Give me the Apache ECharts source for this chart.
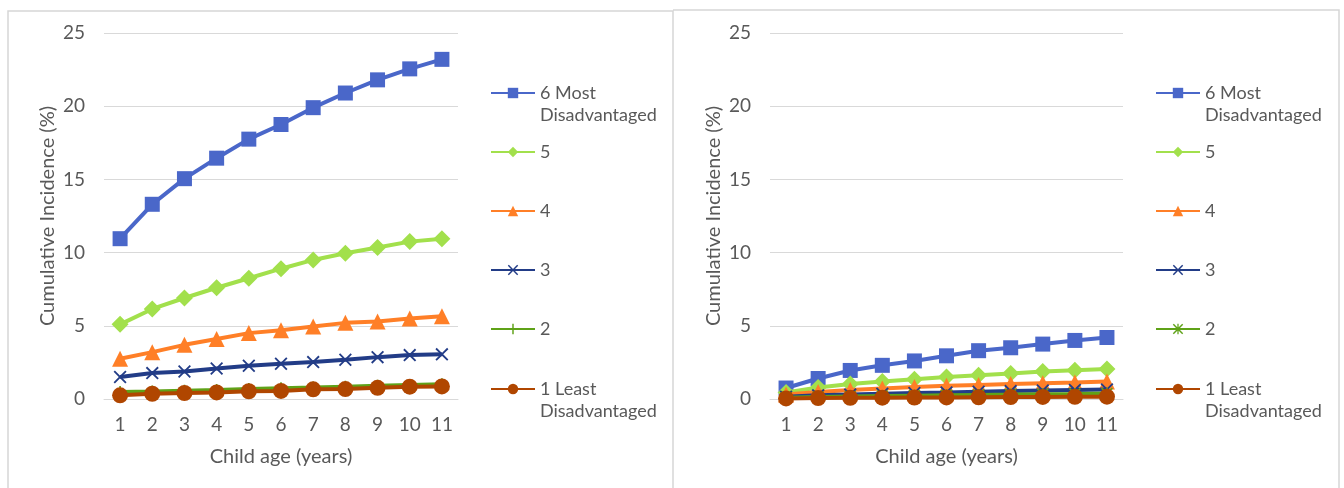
<!DOCTYPE html>
<html>
<head>
<meta charset="utf-8">
<script src="https://cdn.jsdelivr.net/npm/echarts@6/dist/echarts.min.js"></script>
<style>
  html, body { margin: 0; padding: 0; background: #ffffff; }
  #left { position: absolute; left: 0; top: 0; width: 673px; height: 488px; }
  #right { position: absolute; left: 673px; top: 0; width: 671px; height: 488px; }
</style>
</head>
<body>
<div id="left"></div>
<div id="right"></div>
<script>
// ---- Data ----
const ages = ['1', '2', '3', '4', '5', '6', '7', '8', '9', '10', '11'];
const seriesNames = ['6 Most Disadvantaged', '5', '4', '3', '2', '1 Least Disadvantaged'];
const yTicks = [0, 5, 10, 15, 20, 25];

// Left panel
const left6 = [10.95, 13.3, 15.05, 16.45, 17.75, 18.75, 19.9, 20.9, 21.8, 22.55, 23.2];
const left5 = [5.1, 6.15, 6.9, 7.6, 8.25, 8.9, 9.5, 9.95, 10.35, 10.75, 10.95];
const left4 = [2.75, 3.2, 3.7, 4.1, 4.5, 4.7, 4.95, 5.2, 5.3, 5.5, 5.65];
const left3 = [1.5, 1.77, 1.88, 2.08, 2.27, 2.41, 2.52, 2.68, 2.86, 3.0, 3.05];
const left2 = [0.48, 0.52, 0.57, 0.62, 0.68, 0.73, 0.78, 0.84, 0.9, 0.95, 1.0];
const left1 = [0.25, 0.36, 0.41, 0.45, 0.53, 0.55, 0.66, 0.68, 0.76, 0.84, 0.86];

// Right panel
const right6 = [0.75, 1.4, 1.95, 2.3, 2.6, 2.95, 3.3, 3.5, 3.75, 4.0, 4.2];
const right5 = [0.45, 0.78, 1.02, 1.2, 1.35, 1.5, 1.62, 1.74, 1.88, 1.97, 2.05];
const right4 = [0.3, 0.48, 0.62, 0.72, 0.82, 0.9, 0.96, 1.02, 1.08, 1.13, 1.2];
const right3 = [0.15, 0.25, 0.3, 0.36, 0.41, 0.45, 0.5, 0.54, 0.58, 0.62, 0.65];
const right2 = [0.08, 0.13, 0.17, 0.2, 0.23, 0.26, 0.28, 0.3, 0.33, 0.35, 0.38];
const right1 = [0.04, 0.06, 0.08, 0.09, 0.1, 0.11, 0.12, 0.13, 0.14, 0.15, 0.16];

// ---- Styles ----
const FONT = 'Lato, "Open Sans", sans-serif';
const TEXT = '#595959';
const GRID = '#d9d9d9';
const colors = ['#4A67C9', '#A2E04C', '#FF7F27', '#223C87', '#5FA218', '#B04600'];
const xPath = 'path://M0,1 L1,0 L5,4 L9,0 L10,1 L6,5 L10,9 L9,10 L5,6 L1,10 L0,9 L4,5 Z';
const plusPath = 'path://M4.3,0 H5.7 V4.3 H10 V5.7 H5.7 V10 H4.3 V5.7 H0 V4.3 H4.3 Z';
const starPath = 'path://M0,1 L1,0 L5,4 L9,0 L10,1 L6,5 L10,9 L9,10 L5,6 L1,10 L0,9 L4,5 Z M4.4,0 H5.6 V10 H4.4 Z';
const legendLines = {
  '6 Most Disadvantaged': ' \n6 Most\nDisadvantaged',
  '1 Least Disadvantaged': ' \n1 Least\nDisadvantaged'
};
const legendCenters = [93, 152, 211, 270, 329, 389];

function buildOption(dataSets, series2Symbol, gridLeft, gridRight, legendLeft, border) {
  const symbols = ['rect', 'diamond', 'triangle', xPath, series2Symbol, 'circle'];
  const sizes = [15, 17, 16, 13, 12, 16];
  const series = seriesNames.map((name, i) => ({
    name: name,
    type: 'line',
    data: dataSets[i],
    symbol: symbols[i],
    symbolSize: sizes[i],
    showAllSymbol: true,
    lineStyle: { color: colors[i], width: 4 },
    itemStyle: { color: colors[i] },
    emphasis: { disabled: true },
    animation: false,
    z: 2 + i
  }));
  const legends = seriesNames.map((name, i) => {
    const multi = !!legendLines[name];
    return {
      data: [name],
      orient: 'vertical',
      left: legendLeft,
      top: multi ? legendCenters[i] - 33 : legendCenters[i] - 11,
      padding: 0,
      itemWidth: 44,
      itemHeight: 13,
      selectedMode: false,
      formatter: (n) => legendLines[n] || n,
      textStyle: { fontFamily: FONT, fontSize: 18, color: TEXT, lineHeight: 22 }
    };
  });
  return {
    backgroundColor: '#ffffff',
    animation: false,
    textStyle: { fontFamily: FONT },
    grid: { left: gridLeft, right: gridRight, top: 33, bottom: 89, containLabel: false },
    xAxis: {
      type: 'category',
      data: ages,
      boundaryGap: true,
      name: 'Child age (years)',
      nameLocation: 'middle',
      nameGap: 48,
      nameMoveOverlap: false,
      nameTextStyle: { fontFamily: FONT, fontSize: 20, color: TEXT },
      axisLine: { show: true, lineStyle: { color: GRID, width: 1 } },
      axisTick: { show: false },
      axisLabel: { fontFamily: FONT, fontSize: 19, color: TEXT, margin: 16 }
    },
    yAxis: {
      type: 'value',
      min: yTicks[0],
      max: yTicks[yTicks.length - 1],
      interval: yTicks[1] - yTicks[0],
      name: 'Cumulative Incidence (%)',
      nameLocation: 'middle',
      nameRotate: 90,
      nameGap: 46,
      nameMoveOverlap: false,
      nameTextStyle: { fontFamily: FONT, fontSize: 20, color: TEXT },
      axisLine: { show: false },
      axisTick: { show: false },
      axisLabel: { fontFamily: FONT, fontSize: 19, color: TEXT, margin: 19 },
      splitLine: { show: true, lineStyle: { color: GRID, width: 1 } }
    },
    legend: legends,
    graphic: [{
      type: 'rect',
      silent: true,
      shape: border,
      style: { fill: 'none', stroke: '#d6d6d6', lineWidth: 1.5 },
      z: 0
    }],
    series: series
  };
}

const leftChart = echarts.init(document.getElementById('left'), null, { renderer: 'canvas' });
leftChart.setOption(buildOption(
  [left6, left5, left4, left3, left2, left1], plusPath, 104, 215, 490,
  { x: 8, y: 11, width: 665, height: 500 }
));

const rightChart = echarts.init(document.getElementById('right'), null, { renderer: 'canvas' });
rightChart.setOption(buildOption(
  [right6, right5, right4, right3, right2, right1], starPath, 97, 221, 482,
  { x: 0, y: 10, width: 666, height: 500 }
));
</script>
</body>
</html>
